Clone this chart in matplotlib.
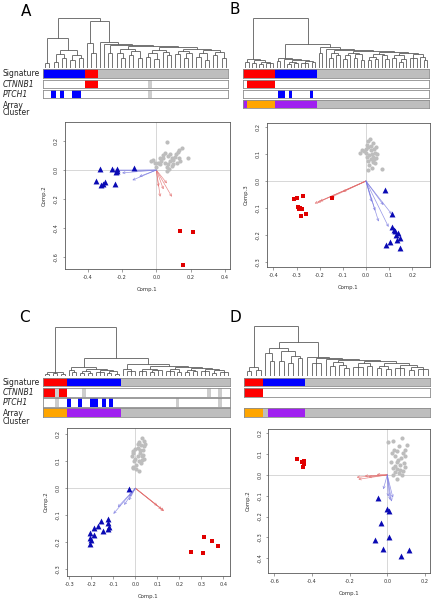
import numpy as np
import matplotlib.pyplot as plt

plt.rcParams['font.family'] = 'DejaVu Sans'
plt.rcParams['axes.unicode_minus'] = False

# ---- per-sample annotation tracks (one code per leaf, left to right) ----
# B blue, R red, G grey, W white, O orange, P purple, L not available
sig_a = 'B' * 10 + 'R' * 3 + 'G' * 31
ctnnb1_a = 'W' * 10 + 'R' * 3 + 'W' * 12 + 'L' + 'W' * 18
ptch1_a = 'WWBWBWWBB' + 'W' * 16 + 'L' + 'W' * 18

sig_b = 'R' * 9 + 'B' * 12 + 'G' * 32
ctnnb1_b = 'W' + 'R' * 8 + 'W' * 44
ptch1_b = 'W' * 10 + 'BBWB' + 'W' * 5 + 'B' + 'W' * 33
array_b = 'P' + 'O' * 8 + 'P' * 12 + 'G' * 32

sig_c = 'R' * 6 + 'B' * 14 + 'G' * 28
ctnnb1_c = 'RRRLRR' + 'W' * 4 + 'L' + 'W' * 31 + 'L' + 'W' * 2 + 'L' + 'WW'
ptch1_c = 'WWWLWWBWWBWWBBWBWB' + 'W' * 16 + 'L' + 'W' * 10 + 'L' + 'WW'
array_c = 'O' * 6 + 'P' * 14 + 'G' * 28

sig_d = 'R' * 4 + 'B' * 9 + 'G' * 27
ctnnb1_d = 'R' * 4 + 'W' * 36
array_d = 'O' * 4 + 'G' + 'P' * 8 + 'G' * 27

# ---- dendrograms: (height, child, child, ...), leaf = 0 ----
blue_a = (0.59, (0.1, 0, 0), (0.35, (0.28, (0.12, 0, 0), (0.2, 0, 0)), (0.25, (0.15, 0, 0), (0.2, 0, 0))))
red_a = (0.49, 0, (0.3, 0, 0))
grey_a = (0.51, 0,
          (0.47, 0,
           (0.45, (0.3, 0, 0),
            (0.43, (0.38, (0.3, 0, (0.2, 0, 0)), (0.33, (0.25, 0, 0), (0.2, 0, 0))),
             (0.41, (0.36, (0.3, (0.22, 0, 0), (0.18, 0, 0)), (0.32, 0, (0.25, 0, 0))),
              (0.38, (0.33, (0.28, 0, 0), (0.3, (0.2, 0, 0), 0)),
               (0.35, (0.3, (0.22, 0, 0), (0.15, 0, 0)), (0.32, (0.25, 0, 0), (0.2, 0, 0)))))))))
tree_a = (1.0, blue_a, (0.93, red_a, grey_a))

red_b = (0.18, (0.12, 0, 0), (0.15, (0.1, 0, 0), (0.12, (0.08, 0, 0), (0.1, 0, 0, 0))))
blue_b = (0.2, (0.14, 0, 0),
          (0.18, 0, (0.16, (0.12, (0.08, 0, 0), (0.1, 0, 0)), (0.14, (0.1, 0, 0, 0), (0.12, 0, 0)))))
grey_b = (0.41, (0.3, 0, 0),
          (0.38, 0,
           (0.36, (0.3, (0.2, 0, 0), (0.25, 0, 0)),
            (0.34, (0.3, (0.25, (0.18, 0, 0), 0), (0.28, (0.2, 0, 0), (0.15, 0, 0))),
             (0.32, (0.28, (0.22, (0.15, 0, 0), (0.18, 0, 0)), (0.25, 0, (0.18, 0, 0))),
              (0.3, (0.26, (0.2, 0, 0), (0.18, (0.12, 0, 0), 0)),
               (0.28, (0.2, 0, 0, 0), (0.22, 0, (0.16, 0, 0)))))))))
tree_b = (1.0, red_b, (0.48, blue_b, grey_b))

red_c = (0.08, (0.05, 0, 0), (0.06, 0, 0), (0.05, 0, 0))
blue_c = (0.18, (0.12, 0, (0.08, 0, 0)),
          (0.15, (0.1, (0.06, 0, 0), (0.07, 0, 0)), (0.12, (0.08, 0, 0, 0), (0.1, (0.06, 0, 0), (0.05, 0, 0)))))
grey_c = (0.24, (0.14, 0, (0.1, 0, 0, 0)),
          (0.2, (0.15, (0.1, 0, 0, 0), (0.12, (0.08, 0, 0), 0, 0)),
           (0.18, (0.14, (0.1, 0, 0, 0), (0.09, 0, 0)),
            (0.16, (0.12, (0.08, 0, 0), (0.1, 0, 0)),
             (0.14, (0.1, 0, 0, 0), (0.12, (0.07, 0, 0), (0.08, 0, 0, 0)))))))
tree_c = (1.0, red_c, (0.36, blue_c, grey_c))

red_d = (0.18, (0.1, 0, 0), (0.12, 0, 0))
blue_d = (0.56, (0.45, 0, (0.3, 0, 0)), (0.5, (0.3, 0, 0), (0.4, (0.25, 0, 0), (0.35, 0, 0))))
grey_d = (0.38, 0,
          (0.36, (0.25, 0, 0, 0),
           (0.34, 0,
            (0.32, (0.27, (0.2, 0, 0), (0.22, 0, (0.15, 0, 0))),
             (0.3, (0.25, (0.18, 0, 0, 0), (0.2, 0, 0)),
              (0.26, (0.2, (0.15, 0, 0), (0.13, 0, 0)),
               (0.22, (0.16, 0, 0, 0), (0.18, (0.12, 0, 0), (0.14, 0, 0, 0)))))))))
tree_d = (1.0, red_d, (0.67, blue_d, grey_d))

# ---- PCA scores (Comp.1, Comp.2) ----
grey_pts_a = [(0.06, 0.195), (0.187, 0.085), (0.15, 0.15), (0.124, 0.126), (0.13, 0.14), (0.07, 0.097),
              (0.062, -0.01), (0.02, 0.04), (0.03, 0.06), (0.04, 0.08), (0.05, 0.05), (0.08, 0.06),
              (0.09, 0.03), (0.1, 0.07), (0.11, 0.09), (0.12, 0.05), (0.13, 0.08), (0.06, 0.02),
              (0.07, 0.04), (0.0, 0.02), (0.01, 0.05), (0.04, 0.1), (0.08, 0.11), (0.1, 0.04),
              (0.14, 0.06), (0.02, 0.08), (0.05, 0.12), (0.09, 0.085), (0.115, 0.11), (0.075, 0.005),
              (-0.02, 0.07), (-0.01, 0.05), (-0.03, 0.06)]
blue_pts_a = [(-0.33, 0.01), (-0.26, 0.01), (-0.23, 0.005), (-0.23, -0.01), (-0.235, -0.015), (-0.13, 0.015),
              (-0.35, -0.075), (-0.30, -0.08), (-0.31, -0.095), (-0.32, -0.1), (-0.24, -0.097)]
red_pts_a = [(0.141, -0.42), (0.213, -0.425), (0.158, -0.65)]
blue_arr_a = [(-0.26, 0.0), (-0.24, -0.005), (-0.2, -0.02), (-0.14, -0.07), (-0.1, -0.045)]
red_arr_a = [(0.023, -0.184), (0.091, -0.184), (0.062, -0.092), (0.042, -0.133), (0.013, -0.115)]

grey_pts_b = [(0.019, 0.154), (0.01, 0.148), (0.03, 0.14), (-0.025, 0.103), (-0.01, 0.11), (0.0, 0.12),
              (0.01, 0.125), (0.02, 0.13), (0.035, 0.12), (0.04, 0.105), (0.025, 0.1), (0.015, 0.095),
              (0.005, 0.09), (0.03, 0.09), (0.045, 0.085), (0.02, 0.08), (0.01, 0.075), (0.03, 0.07),
              (0.04, 0.065), (0.015, 0.06), (0.025, 0.05), (0.069, 0.044), (0.01, 0.04), (0.0, 0.105),
              (0.045, 0.125), (0.005, 0.135), (0.035, 0.08), (-0.015, 0.115), (0.02, 0.115), (0.05, 0.1)]
blue_pts_b = [(0.083, -0.033), (0.112, -0.123), (0.112, -0.169), (0.124, -0.185), (0.138, -0.194),
              (0.148, -0.209), (0.105, -0.225), (0.134, -0.22), (0.088, -0.237), (0.148, -0.249),
              (0.12, -0.18), (0.13, -0.2)]
red_pts_b = [(-0.309, -0.068), (-0.30, -0.064), (-0.27, -0.054), (-0.147, -0.062), (-0.292, -0.095),
             (-0.285, -0.1), (-0.275, -0.105), (-0.28, -0.128), (-0.259, -0.122), (-0.29, -0.105)]
blue_arr_b = [(0.112, -0.123), (0.055, -0.15), (0.025, -0.077), (0.076, -0.089), (0.098, -0.17), (0.04, -0.11)]
red_arr_b = [(-0.222, -0.083), (-0.2, -0.075), (-0.1, -0.04), (-0.15, -0.06), (-0.21, -0.08)]

grey_pts_c = [(0.018, 0.173), (0.041, 0.176), (0.03, 0.185), (0.01, 0.165), (0.025, 0.16), (0.04, 0.155),
              (-0.009, 0.13), (0.0, 0.145), (0.01, 0.15), (0.02, 0.14), (0.035, 0.14), (0.041, 0.11),
              (0.03, 0.12), (0.01, 0.12), (-0.012, 0.136), (0.034, 0.123), (0.0, 0.11), (-0.005, 0.1),
              (0.015, 0.1), (0.025, 0.095), (-0.012, 0.08), (0.005, 0.085), (-0.012, 0.074), (0.018, 0.062),
              (0.005, 0.07), (0.02, 0.13), (-0.015, 0.12), (0.045, 0.165), (0.028, 0.105)]
blue_pts_c = [(-0.028, -0.004), (-0.124, -0.115), (-0.155, -0.121), (-0.147, -0.157), (-0.124, -0.151),
              (-0.17, -0.14), (-0.186, -0.148), (-0.205, -0.167), (-0.19, -0.173), (-0.205, -0.185),
              (-0.2, -0.19), (-0.205, -0.206), (-0.12, -0.142), (-0.125, -0.13)]
red_pts_c = [(0.253, -0.235), (0.307, -0.238), (0.31, -0.179), (0.349, -0.194), (0.375, -0.214)]
blue_arr_c = [(-0.1, -0.095), (-0.051, -0.062), (-0.028, -0.031), (-0.08, -0.07), (-0.03, -0.045)]
red_arr_c = [(0.129, -0.083), (0.12, -0.078), (0.1, -0.065), (0.13, -0.085)]

grey_pts_d = [(0.005, 0.16), (0.029, 0.165), (0.08, 0.176), (0.103, 0.144), (0.05, 0.117), (0.035, 0.12),
              (0.085, 0.104), (0.059, 0.072), (0.089, 0.059), (0.032, 0.032), (0.05, 0.03), (0.04, 0.045),
              (0.094, 0.091), (0.023, 0.107), (0.05, 0.064), (0.094, 0.04), (0.041, 0.016), (0.077, 0.0),
              (0.05, -0.021), (0.06, 0.01), (0.07, 0.025), (0.03, 0.0), (0.065, 0.05), (0.095, 0.12),
              (0.06, 0.14), (0.075, 0.08), (0.04, 0.09), (0.085, 0.02), (0.02, 0.06)]
blue_pts_d = [(-0.048, -0.112), (0.0, -0.165), (0.011, -0.173), (-0.035, -0.232), (0.009, -0.3),
              (-0.065, -0.313), (-0.021, -0.356), (0.073, -0.389), (0.115, -0.36)]
red_pts_d = [(-0.477, 0.077), (-0.452, 0.061), (-0.441, 0.053), (-0.447, 0.04), (-0.44, 0.065)]
blue_arr_d = [(0.023, -0.128), (-0.021, -0.069), (0.005, -0.104), (0.015, -0.12), (0.03, -0.11)]
red_arr_d = [(-0.154, -0.021), (-0.163, -0.011), (-0.056, 0.003), (-0.1, -0.01), (-0.12, -0.005)]

track_colors = {'B': '#0000ff', 'R': '#ff0000', 'G': '#bebebe', 'W': '#ffffff',
                'O': '#ffa500', 'P': '#a020f0', 'L': '#cdcdcd'}

W, H = 435, 599
fig = plt.figure(figsize=(W / 100, H / 100), dpi=100)


def px_axes(l, t, r, b):
    return fig.add_axes([l / W, 1 - b / H, (r - l) / W, (b - t) / H])


def count_leaves(node):
    if not isinstance(node, tuple):
        return 1
    return sum(count_leaves(c) for c in node[1:])


def draw_node(ax, node, counter):
    if not isinstance(node, tuple):
        x = counter[0] + 0.5
        counter[0] += 1
        return x, 0.0
    h = node[0]
    kids = [draw_node(ax, c, counter) for c in node[1:]]
    xs = [k[0] for k in kids]
    for kx, kh in kids:
        ax.plot([kx, kx], [kh, h], color='#4d4d4d', lw=0.55, solid_capstyle='butt')
    ax.plot([min(xs), max(xs)], [h, h], color='#4d4d4d', lw=0.55, solid_capstyle='butt')
    return (xs[0] + xs[-1]) / 2, h


def draw_dendro(tree, l, t, r, b):
    ax = px_axes(l, t, r, b)
    n = count_leaves(tree)
    draw_node(ax, tree, [0])
    ax.set_xlim(0, n)
    ax.set_ylim(0, 1.0)
    ax.axis('off')


def draw_track(codes, l, t, r, b):
    ax = px_axes(l, t, r, b)
    n = len(codes)
    ax.bar(np.arange(n) + 0.5, [1] * n, width=1.0, bottom=0,
           color=[track_colors[c] for c in codes], linewidth=0)
    ax.set_xlim(0, n)
    ax.set_ylim(0, 1)
    ax.set_xticks([])
    ax.set_yticks([])
    for s in ax.spines.values():
        s.set_color('#8c8c8c')
        s.set_linewidth(0.6)


def draw_pca(l, t, r, b, grey, blue, red, arr_blue, arr_red, xlim, ylim, xticks, yticks, ylabel):
    ax = px_axes(l, t, r, b)
    ax.axhline(0, color='#c8c8c8', lw=0.5, zorder=1)
    ax.axvline(0, color='#c8c8c8', lw=0.5, zorder=1)
    for (x, y) in arr_red:
        ax.annotate('', xy=(x, y), xytext=(0, 0),
                    arrowprops=dict(arrowstyle='->', color='#e37070', lw=0.5, alpha=0.8,
                                    shrinkA=0, shrinkB=0, mutation_scale=4), zorder=2)
    for (x, y) in arr_blue:
        ax.annotate('', xy=(x, y), xytext=(0, 0),
                    arrowprops=dict(arrowstyle='->', color='#7a7ae0', lw=0.5, alpha=0.8,
                                    shrinkA=0, shrinkB=0, mutation_scale=4), zorder=2)
    g = np.array(grey)
    bl = np.array(blue)
    rd = np.array(red)
    ax.scatter(g[:, 0], g[:, 1], s=9, marker='o', color='#bdbdbd', linewidths=0, zorder=3)
    ax.scatter(bl[:, 0], bl[:, 1], s=18, marker='^', color='#0a0ab4', linewidths=0, zorder=3)
    ax.scatter(rd[:, 0], rd[:, 1], s=12, marker='s', color='#e00000', linewidths=0, zorder=3)
    ax.set_xlim(*xlim)
    ax.set_ylim(*ylim)
    ax.set_xticks(xticks)
    ax.set_yticks(yticks)
    ax.set_xticklabels(['%.1f' % v for v in xticks])
    ax.set_yticklabels(['%.1f' % v for v in yticks], rotation=90, va='center')
    ax.tick_params(labelsize=3.6, length=1.8, width=0.4, pad=2.5, color='#555555', labelcolor='#333333')
    for s in ax.spines.values():
        s.set_color('#5a5a5a')
        s.set_linewidth(0.6)
    ax.set_xlabel('Comp.1', fontsize=3.9, labelpad=5, color='#333333')
    ax.set_ylabel(ylabel, fontsize=3.9, labelpad=5, color='#333333')


def row_labels(y0):
    kw = dict(fontsize=5.5, va='center', ha='left', color='#222222')
    fig.text(3 / W, 1 - (y0 + 4.5) / H, 'Signature', **kw)
    fig.text(3 / W, 1 - (y0 + 14.8) / H, 'CTNNB1', style='italic', **kw)
    fig.text(3 / W, 1 - (y0 + 25) / H, 'PTCH1', style='italic', **kw)
    fig.text(3 / W, 1 - (y0 + 36) / H, 'Array', **kw)
    fig.text(3 / W, 1 - (y0 + 43.5) / H, 'Cluster', **kw)


def tracks(l, r, y0, rows):
    for i, codes in enumerate(rows):
        if codes is None:
            continue
        top = y0 + i * 10.2
        draw_track(codes, l, top, r, top + 8.6)


# panel A
fig.text(26 / W, 1 - 11 / H, 'A', fontsize=11, ha='center', va='center')
draw_dendro(tree_a, 43, 18, 228, 67.5)
tracks(43, 228, 69.3, [sig_a, ctnnb1_a, ptch1_a, None])
row_labels(69.3)
draw_pca(65, 122, 230, 269, grey_pts_a, blue_pts_a, red_pts_a, blue_arr_a, red_arr_a,
         (-0.533, 0.43), (-0.68, 0.33), [-0.4, -0.2, 0.0, 0.2, 0.4],
         [-0.6, -0.4, -0.2, 0.0, 0.2], 'Comp.2')

# panel B
fig.text(235 / W, 1 - 10 / H, 'B', fontsize=11, ha='center', va='center')
draw_dendro(tree_b, 243.3, 18, 429, 67.5)
tracks(243.3, 429, 69.3, [sig_b, ctnnb1_b, ptch1_b, array_b])
draw_pca(266.7, 122.7, 430, 266.7, grey_pts_b, blue_pts_b, red_pts_b, blue_arr_b, red_arr_b,
         (-0.429, 0.277), (-0.317, 0.216), [-0.4, -0.3, -0.2, -0.1, 0.0, 0.1, 0.2],
         [-0.3, -0.2, -0.1, 0.0, 0.1, 0.2], 'Comp.3')

# panel C
fig.text(24 / W, 1 - 318 / H, 'C', fontsize=11, ha='center', va='center')
draw_dendro(tree_c, 43.3, 326.7, 230, 376)
tracks(43.3, 230, 377.7, [sig_c, ctnnb1_c, ptch1_c, array_c])
row_labels(377.7)
draw_pca(66.7, 428, 230, 576, grey_pts_c, blue_pts_c, red_pts_c, blue_arr_c, red_arr_c,
         (-0.312, 0.43), (-0.325, 0.223), [-0.3, -0.2, -0.1, 0.0, 0.1, 0.2, 0.3, 0.4],
         [-0.3, -0.2, -0.1, 0.0, 0.1, 0.2], 'Comp.2')

# panel D
fig.text(235 / W, 1 - 318 / H, 'D', fontsize=11, ha='center', va='center')
draw_dendro(tree_d, 244.3, 325.7, 430, 376)
tracks(244.3, 430, 377.7, [sig_d, ctnnb1_d, None, array_d])
draw_pca(268.3, 429, 430, 573.3, grey_pts_d, blue_pts_d, red_pts_d, blue_arr_d, red_arr_d,
         (-0.632, 0.227), (-0.473, 0.221), [-0.6, -0.4, -0.2, 0.0, 0.2],
         [-0.4, -0.3, -0.2, -0.1, 0.0, 0.1, 0.2], 'Comp.2')

fig.savefig('out.png', dpi=100)
